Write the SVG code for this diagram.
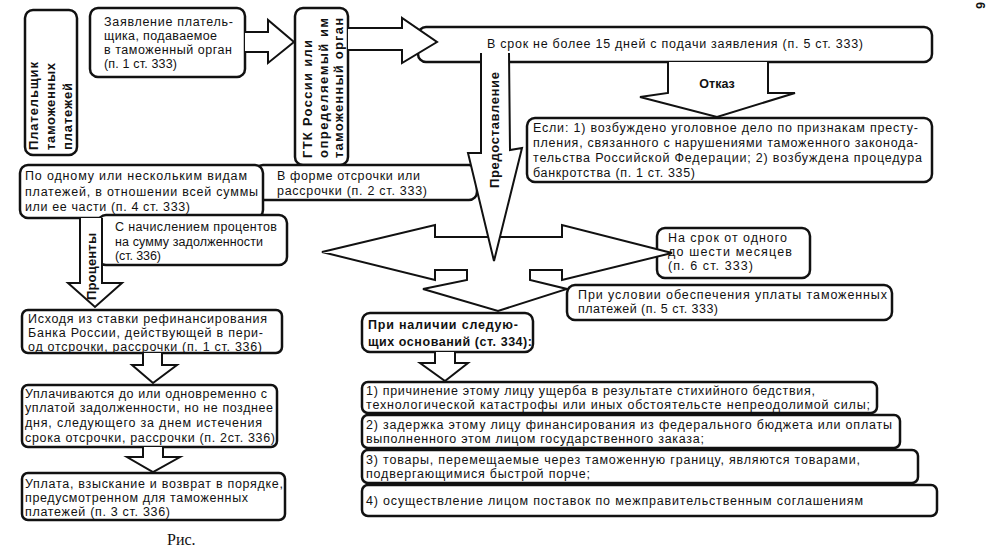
<svg xmlns="http://www.w3.org/2000/svg" width="992" height="554" viewBox="0 0 992 554">
<style>
.box{fill:#fff;stroke:#111;stroke-width:2.5}
.arr{fill:#fff;stroke:#111;stroke-width:2;stroke-linejoin:miter}
.t{font-family:"Liberation Sans",Arial,sans-serif;font-size:12.5px;fill:#111}
.b{font-weight:bold}
.v{font-family:"Liberation Sans",Arial,sans-serif;font-size:13px;font-weight:bold;fill:#111}
</style>
<rect width="992" height="554" fill="#fff"/>

<g id="payer">
<rect class="box" x="25" y="10" width="52" height="145" rx="8"/>
<text class="v" transform="translate(37.5,150) rotate(-90)" textLength="88">Плательщик</text>
<text class="v" transform="translate(54.5,150) rotate(-90)" textLength="87">таможенных</text>
<text class="v" transform="translate(71.5,150) rotate(-90)" textLength="67">платежей</text>
</g>

<g id="application">
<rect class="box" x="90" y="8" width="155" height="69" rx="8"/>
<text class="t" x="104" y="26" textLength="129">Заявление платель-</text>
<text class="t" x="104" y="40" textLength="113">щика, подаваемое</text>
<text class="t" x="104" y="54" textLength="128">в таможенный орган</text>
<text class="t" x="104" y="68" textLength="73">(п. 1 ст. 333)</text>
</g>

<g id="gtk">
<rect class="box" x="295" y="8" width="53" height="157" rx="8"/>
<text class="v" transform="translate(311.5,158) rotate(-90)" textLength="118">ГТК России или</text>
<text class="v" transform="translate(327.5,158) rotate(-90)" textLength="140">определяемый им</text>
<text class="v" transform="translate(342.5,158) rotate(-90)" textLength="140">таможенный орган</text>
</g>

<g id="term15">
<rect class="box" x="418" y="27" width="514" height="35" rx="8"/>
<text class="t" x="487" y="48" textLength="376">В срок не более 15 дней с подачи заявления (п. 5 ст. 333)</text>
</g>

<g id="refusal-cond">
<rect class="box" x="527" y="118" width="405" height="64" rx="8"/>
<text class="t" x="533" y="132" textLength="385">Если: 1) возбуждено уголовное дело по признакам престу-</text>
<text class="t" x="533" y="147" textLength="385">пления, связанного с нарушениями таможенного законода-</text>
<text class="t" x="533" y="162" textLength="389">тельства Российской Федерации; 2) возбуждена процедура</text>
<text class="t" x="533" y="177" textLength="162">банкротства (п. 1 ст. 335)</text>
</g>

<g id="form">
<rect class="box" x="255" y="165" width="222" height="35" rx="8"/>
<text class="t" x="277" y="180" textLength="143">В форме отсрочки или</text>
<text class="t" x="277" y="195" textLength="150">рассрочки (п. 2 ст. 333)</text>
</g>

<g id="kinds">
<rect class="box" x="20" y="165" width="243" height="53" rx="8"/>
<text class="t" x="25" y="180" textLength="222">По одному или нескольким видам</text>
<text class="t" x="25" y="196" textLength="233">платежей, в отношении всей суммы</text>
<text class="t" x="25" y="211" textLength="165">или ее части (п. 4 ст. 333)</text>
</g>

<g id="interest">
<rect class="box" x="98" y="215" width="189" height="50" rx="8"/>
<text class="t" x="115" y="231" textLength="162">С начислением процентов</text>
<text class="t" x="115" y="246" textLength="148">на сумму задолженности</text>
<text class="t" x="115" y="260" textLength="46">(ст. 336)</text>
</g>

<g id="rate">
<rect class="box" x="22" y="310" width="260" height="43" rx="6"/>
<text class="t" x="28" y="323" textLength="239">Исходя из ставки рефинансирования</text>
<text class="t" x="28" y="337" textLength="235">Банка России, действующей в пери-</text>
<text class="t" x="28" y="351" textLength="234">од отсрочки, рассрочки (п. 1 ст. 336)</text>
</g>

<g id="paid">
<rect class="box" x="22" y="385" width="255" height="62" rx="6"/>
<text class="t" x="25" y="398" textLength="242">Уплачиваются до или одновременно с</text>
<text class="t" x="25" y="412" textLength="248">уплатой задолженности, но не позднее</text>
<text class="t" x="25" y="427" textLength="237">дня, следующего за днем истечения</text>
<text class="t" x="25" y="442" textLength="250">срока отсрочки, рассрочки (п. 2ст. 336)</text>
</g>

<g id="payment">
<rect class="box" x="22" y="473" width="263" height="47" rx="6"/>
<text class="t" x="25" y="488" textLength="258">Уплата, взыскание и возврат в порядке,</text>
<text class="t" x="25" y="502" textLength="223">предусмотренном для таможенных</text>
<text class="t" x="25" y="516" textLength="145">платежей (п. 3 ст. 336)</text>
</g>

<g id="period">
<rect class="box" x="657" y="228" width="153" height="50" rx="8"/>
<text class="t" x="668" y="242" textLength="119">На срок от одного</text>
<text class="t" x="668" y="256" textLength="124">до шести месяцев</text>
<text class="t" x="668" y="270" textLength="85">(п. 6 ст. 333)</text>
</g>

<g id="security">
<rect class="box" x="567" y="285" width="325" height="35" rx="8"/>
<text class="t" x="578" y="299" textLength="309">При условии обеспечения уплаты таможенных</text>
<text class="t" x="578" y="313" textLength="140">платежей (п. 5 ст. 333)</text>
</g>

<g id="grounds">
<rect class="box" x="362" y="313" width="171" height="39" rx="8"/>
<text class="t b" x="368" y="329" textLength="150">При наличии следую-</text>
<text class="t b" x="368" y="346" textLength="164">щих оснований (ст. 334):</text>
</g>

<g id="ground1">
<rect class="box" x="362" y="382" width="515" height="31" rx="6"/>
<text class="t" x="366" y="395" textLength="449">1) причинение этому лицу ущерба в результате стихийного бедствия,</text>
<text class="t" x="366" y="409" textLength="504">технологической катастрофы или иных обстоятельсте непреодолимой силы;</text>
</g>
<g id="ground2">
<rect class="box" x="362" y="415" width="538" height="33" rx="6"/>
<text class="t" x="366" y="429" textLength="526">2) задержка этому лицу финансирования из федерального бюджета или оплаты</text>
<text class="t" x="366" y="443" textLength="338">выполненного этом лицом государственного заказа;</text>
</g>
<g id="ground3">
<rect class="box" x="362" y="450" width="556" height="33" rx="6"/>
<text class="t" x="366" y="464" textLength="494">3) товары, перемещаемые через таможенную границу, являются товарами,</text>
<text class="t" x="366" y="478" textLength="224">подвергающимися быстрой порче;</text>
</g>
<g id="ground4">
<rect class="box" x="362" y="485" width="575" height="31" rx="6"/>
<text class="t" x="366" y="505" textLength="497">4) осуществление лицом поставок по межправительственным соглашениям</text>
</g>

<g id="connectors">
<path class="arr" d="M245,32 L268,32 L268,20 L294,42 L268,63 L268,52 L245,52"/>
<path class="arr" d="M348,28 L402,28 L402,18 L437,42 L402,63 L402,50 L348,50"/>
<path class="arr" d="M668,62 L668,93 L640,97 L717,117 L795,93 L768,93 L768,62"/>
<text class="t b" x="717" y="88" text-anchor="middle">Отказ</text>
<path class="arr" d="M322,252 L435,225 L435,237 L562,237 L562,225 L672,253 L562,280 L562,270 L530,270 L530,280 L567,289 L498,311 L423,289 L467,280 L467,270 L435,270 L435,280 Z"/>
<path class="arr" d="M481,53 L481,153 L468,153 L494,261 L522,148 L510,150 L509,53"/>
<text class="v" transform="translate(498.5,188) rotate(-90)" textLength="116">Предоставление</text>
<path class="arr" d="M80,218 L80,283 L68,283 L95,307 L122,283 L102,283 L102,218"/>
<text class="v" transform="translate(96,300) rotate(-90)" textLength="67">Проценты</text>
<path class="arr" d="M143,353 L143,365 L132,365 L153,383 L177,365 L162,365 L162,353"/>
<path class="arr" d="M143,447 L143,457 L127,457 L153,472 L180,457 L163,457 L163,447"/>
<path class="arr" d="M435,352 L435,363 L420,363 L445,381 L468,363 L455,363 L455,352"/>
</g>

<text x="167" y="545" font-family="'Liberation Serif','Times New Roman',serif" font-size="16" fill="#111">Рис.</text>
<text class="t b" transform="translate(976,2) rotate(90)" font-size="14">6</text>
</svg>
